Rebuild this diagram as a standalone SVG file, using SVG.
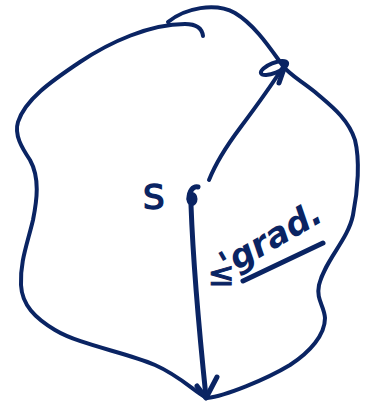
<svg xmlns="http://www.w3.org/2000/svg" width="365" height="404" viewBox="0 0 365 404">
<style>
.ink{fill:none;stroke:#0a2463;stroke-width:4;stroke-linecap:round;stroke-linejoin:round}
.thick{stroke-width:5}
.txt{fill:#0a2463;font-family:"DejaVu Sans",sans-serif}
</style>
<rect width="365" height="404" fill="#fff"/>
<g id="region">
<path class="ink" d="M203,36 C202,28 196,24 185,24 C150,24 110,42 80,62 C50,82 25,100 18,122 C14,135 22,148 30,160 C40,178 37,200 33,220 C27,245 20,262 21,285 C22,305 35,318 55,330 C80,345 125,352 155,365 C180,376 195,392 207,398 C225,396 265,380 290,365 C310,352 325,335 325,318 C324,305 316,300 319,285 C325,260 348,240 353,215 C358,190 360,160 355,140 C348,118 330,105 315,92 C300,80 290,75 283,66 C270,48 255,25 235,13 C215,2 185,8 168,22"/>
</g>
<g id="point-s">
<text class="txt" x="143" y="209" font-size="34" stroke="#0a2463" stroke-width="1.5">S</text>
<ellipse cx="192" cy="199" rx="5.5" ry="7" fill="#0a2463"/>
<path class="ink thick" d="M189,199 C189,191 193,186 198,187"/>
</g>
<g id="connectors">
<path class="ink" d="M209,180 C215,165 225,148 240,128 C255,108 270,88 285,64"/>
<path class="ink thick" d="M279,83 L286,63"/>
<ellipse class="ink" cx="274" cy="68" rx="14" ry="5" transform="rotate(-22 274 68)"/>
<path class="ink thick" d="M191,205 C193,260 198,320 206,397"/>
<path class="ink thick" d="M197,386 L206,398 L217,377"/>
</g>
<g id="label">
<text class="txt" x="208" y="285" font-size="32" stroke="#0a2463" stroke-width="1">≤</text>
<text class="txt" x="228" y="276" font-size="34" font-style="italic" font-weight="bold" transform="rotate(-30 228 276)">'grad.</text>
<path class="ink thick" d="M243,281 L323,243"/>
</g>
</svg>
